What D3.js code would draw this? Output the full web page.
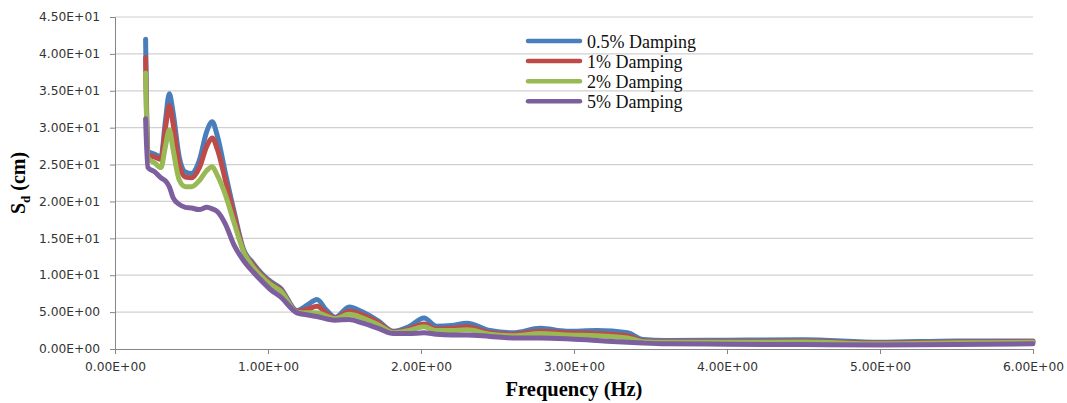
<!DOCTYPE html>
<html>
<head>
<meta charset="utf-8">
<script src="https://cdn.jsdelivr.net/npm/d3@7"></script>
<style>
  body { margin: 0; background: #fff; }
  svg { display: block; }
</style>
</head>
<body>
<svg id="chart" width="1067" height="403"></svg>
<script>
// frequencies (Hz) shared by all series
const freq = [0.2, 0.215, 0.26, 0.3, 0.33, 0.355, 0.38, 0.42, 0.46, 0.5, 0.55, 0.6, 0.635, 0.67, 0.72, 0.78,
  0.84, 0.9, 0.96, 1.02, 1.08, 1.19, 1.26, 1.32, 1.38, 1.44, 1.53, 1.62, 1.72, 1.82, 1.92, 2.02, 2.1, 2.2,
  2.3, 2.45, 2.6, 2.78, 2.95, 3.15, 3.35, 3.45, 3.6, 4.0, 4.5, 5.0, 5.5, 6.0]

const damp05 = [42.0, 26.8, 26.4, 26.0, 31.0, 34.6, 32.0, 26.0, 24.0, 23.8, 25.5, 29.5, 30.8, 28.8, 24.0, 18.5,
  13.5, 11.7, 10.2, 9.1, 8.3, 5.2, 6.0, 6.7, 5.3, 4.3, 5.7, 5.0, 3.8, 2.4, 3.0, 4.2, 3.1, 3.2,
  3.5, 2.5, 2.2, 2.8, 2.4, 2.5, 2.2, 1.3, 1.15, 1.2, 1.25, 0.9, 1.1, 1.1]
const damp1 = [39.5, 26.3, 26.0, 25.7, 30.0, 33.0, 30.5, 25.0, 23.3, 23.2, 24.5, 27.5, 28.6, 27.0, 23.0, 18.0,
  13.3, 11.5, 10.0, 8.9, 8.1, 5.1, 5.4, 5.8, 4.9, 4.2, 5.1, 4.6, 3.6, 2.3, 2.7, 3.4, 2.7, 2.8,
  3.0, 2.2, 2.0, 2.4, 2.2, 2.1, 1.8, 1.1, 1.0, 1.0, 1.05, 0.8, 0.95, 1.0]
const damp2 = [37.4, 25.9, 25.2, 24.6, 27.5, 29.7, 27.0, 22.9, 22.0, 22.0, 22.8, 24.2, 24.7, 23.5, 21.0, 17.0,
  13.2, 11.2, 9.8, 8.7, 7.9, 5.0, 4.9, 4.9, 4.5, 4.1, 4.7, 4.2, 3.3, 2.2, 2.5, 3.0, 2.5, 2.5,
  2.6, 2.0, 1.8, 2.1, 1.9, 1.8, 1.5, 1.0, 0.9, 0.9, 0.95, 0.7, 0.85, 0.9]
const damp5 = [31.2, 24.6, 24.0, 23.2, 22.8, 22.0, 20.5, 19.6, 19.2, 19.1, 18.9, 19.2, 19.0, 18.6, 17.0, 14.0,
  12.0, 10.5, 9.2, 8.0, 7.1, 4.9, 4.6, 4.4, 4.1, 3.9, 4.0, 3.5, 2.8, 2.1, 2.1, 2.2, 2.0, 1.9,
  1.9, 1.7, 1.5, 1.5, 1.4, 1.15, 0.9, 0.8, 0.7, 0.65, 0.6, 0.55, 0.6, 0.7]

const seriesNames = ['0.5% Damping', '1% Damping', '2% Damping', '5% Damping']
const seriesColors = ['#4a7ebb', '#be4b48', '#98b954', '#7d5fa0']
const xTicks = [0, 1, 2, 3, 4, 5, 6]
const yTicks = [0, 5, 10, 15, 20, 25, 30, 35, 40, 45]

const series = [damp05, damp1, damp2, damp5].map((vals, i) => ({
  name: seriesNames[i],
  color: seriesColors[i],
  values: vals.map((v, j) => ({ f: freq[j], v: v }))
}))

const margin = {top: 17, right: 34, bottom: 54, left: 115}
const width = 1067, height = 403
const svg = d3.select('#chart')

const x = d3.scaleLinear().domain([0, 6]).range([margin.left, width - margin.right])
const y = d3.scaleLinear().domain([0, 45]).range([height - margin.bottom, margin.top])

const fmt = d => d.toExponential(2).replace('e', 'E').replace(/E([+-])(\d)$/, 'E$10$2')

// gridlines
svg.append('g')
  .selectAll('line')
  .data(yTicks.filter(d => d > 0))
  .enter().append('line')
    .attr('x1', x(0)).attr('x2', x(6))
    .attr('y1', d => y(d)).attr('y2', d => y(d))
    .attr('stroke', '#d0d0d0')
    .attr('stroke-width', 1.2)

// tick labels are a bit wider than the font gives, stretch them to ~61px
const styleAxis = g => {
  g.selectAll('.domain, line').attr('stroke', '#868686')
  g.selectAll('text')
    .attr('fill', '#333')
    .attr('font-family', 'DejaVu Sans, Verdana, sans-serif')
    .attr('font-size', 11.5)
    .attr('textLength', 61)
    .attr('lengthAdjust', 'spacingAndGlyphs')
}

// y axis
svg.append('g')
  .attr('transform', `translate(${x(0)},0)`)
  .call(d3.axisLeft(y).tickValues(yTicks).tickFormat(fmt).tickSize(5).tickPadding(10))
  .call(styleAxis)

// x axis
svg.append('g')
  .attr('transform', `translate(0,${y(0)})`)
  .call(d3.axisBottom(x).tickValues(xTicks).tickFormat(fmt).tickSize(5).tickPadding(9))
  .call(styleAxis)

// series lines
const line = d3.line()
  .x(d => x(d.f))
  .y(d => y(d.v))
  .curve(d3.curveMonotoneX)

svg.append('g')
  .selectAll('path')
  .data(series)
  .enter().append('path')
    .attr('d', d => line(d.values))
    .attr('fill', 'none')
    .attr('stroke', d => d.color)
    .attr('stroke-width', 5)
    .attr('stroke-linejoin', 'round')
    .attr('stroke-linecap', 'round')

// legend
const legend = svg.append('g')
  .selectAll('g')
  .data(series)
  .enter().append('g')
    .attr('transform', (d, i) => `translate(528,${41 + i * 20.1})`)

legend.append('line')
  .attr('x1', 0).attr('x2', 52)
  .attr('stroke', d => d.color)
  .attr('stroke-width', 4.5)
  .attr('stroke-linecap', 'round')

legend.append('text')
  .attr('x', 59).attr('y', 6.5)
  .attr('fill', '#111')
  .style('font', '18px "Liberation Serif", "Times New Roman", serif')
  .text(d => d.name)

// axis titles
svg.append('text')
  .attr('x', 574).attr('y', 396)
  .attr('text-anchor', 'middle')
  .style('font', 'bold 20.5px "Liberation Serif", "Times New Roman", serif')
  .text('Frequency (Hz)')

const yTitle = svg.append('text')
  .attr('transform', 'translate(25,183) rotate(-90)')
  .attr('text-anchor', 'middle')
  .style('font', 'bold 20px "Liberation Serif", "Times New Roman", serif')
yTitle.append('tspan').text('S')
yTitle.append('tspan').attr('dy', 5).style('font-size', '13px').text('d')
yTitle.append('tspan').attr('dy', -5).text(' (cm)')
</script>
</body>
</html>
